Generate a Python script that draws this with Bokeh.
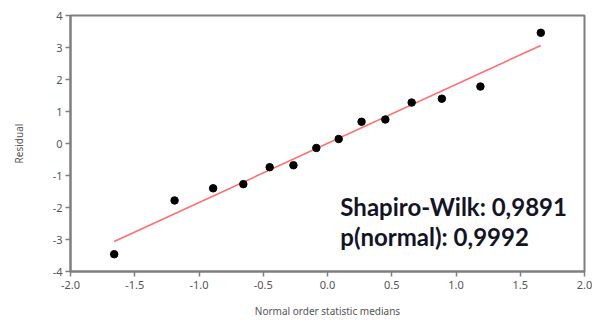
import numpy as np
from bokeh.plotting import figure
from bokeh.models import FixedTicker, NumeralTickFormatter, Label, ColumnDataSource
from bokeh.embed import file_html
from bokeh.resources import INLINE

# Normal probability plot of residuals
medians = [-1.66, -1.19, -0.89, -0.655, -0.45, -0.265, -0.087,
           0.087, 0.265, 0.45, 0.655, 0.89, 1.19, 1.66]
residuals = [-3.46, -1.78, -1.40, -1.27, -0.74, -0.68, -0.14,
             0.14, 0.68, 0.75, 1.28, 1.40, 1.78, 3.46]
x_ticks = [-2.0, -1.5, -1.0, -0.5, 0.0, 0.5, 1.0, 1.5, 2.0]
y_ticks = [-4, -3, -2, -1, 0, 1, 2, 3, 4]
stats_lines = ["Shapiro-Wilk: 0,9891", "p(normal): 0,9992"]

AXIS_GREY = "#7f7f7f"
LABEL_GREY = "#555555"
FONT = "Noto Sans"

p = figure(width=592, height=320, x_range=(-2.0, 2.0), y_range=(-4, 4),
           output_backend="svg", toolbar_location=None,
           min_border_left=70, min_border_right=8, min_border_top=15, min_border_bottom=4)
p.grid.visible = False
p.background_fill_color = "white"
p.border_fill_color = "white"
p.outline_line_color = AXIS_GREY
p.outline_line_width = 2

for ax in (p.xaxis, p.yaxis):
    ax.axis_line_color = AXIS_GREY
    ax.axis_line_width = 2
    ax.major_tick_line_color = AXIS_GREY
    ax.major_tick_line_width = 1.5
    ax.major_tick_out = 5
    ax.major_tick_in = 0
    ax.minor_tick_line_color = None
    ax.major_label_text_color = LABEL_GREY
    ax.major_label_text_font = FONT
    ax.major_label_text_font_size = "11px"
    ax.axis_label_text_color = LABEL_GREY
    ax.axis_label_text_font = FONT
    ax.axis_label_text_font_size = "10px"
    ax.axis_label_text_font_style = "normal"

p.xaxis.ticker = FixedTicker(ticks=x_ticks)
p.xaxis.formatter = NumeralTickFormatter(format="0.0")
p.yaxis.ticker = FixedTicker(ticks=y_ticks)
p.yaxis.formatter = NumeralTickFormatter(format="0")
p.xaxis.axis_label = "Normal order statistic medians"
p.yaxis.axis_label = "Residual"
p.xaxis.major_label_standoff = 4
p.yaxis.major_label_standoff = 3
p.xaxis.axis_label_standoff = 12
p.yaxis.axis_label_standoff = 24

# least-squares line through the points
xs = np.array(medians)
ys = np.array(residuals)
slope, intercept = np.polyfit(xs, ys, 1)
x_fit = np.array([xs.min(), xs.max()])
p.line(x_fit, slope * x_fit + intercept, line_color="#ff6f6f", line_width=1.6)

src = ColumnDataSource(dict(x=medians, y=residuals))
p.scatter("x", "y", source=src, size=7.5, fill_color="black", line_color="black")

for i, txt in enumerate(stats_lines):
    p.add_layout(Label(x=0.10, y=-1.96 - 0.95 * i, text=txt, text_font="Lato",
                       text_font_size="24px", text_font_style="bold",
                       text_color="#141428", text_baseline="alphabetic"))

open("out.html", "w").write(file_html(p, INLINE))
